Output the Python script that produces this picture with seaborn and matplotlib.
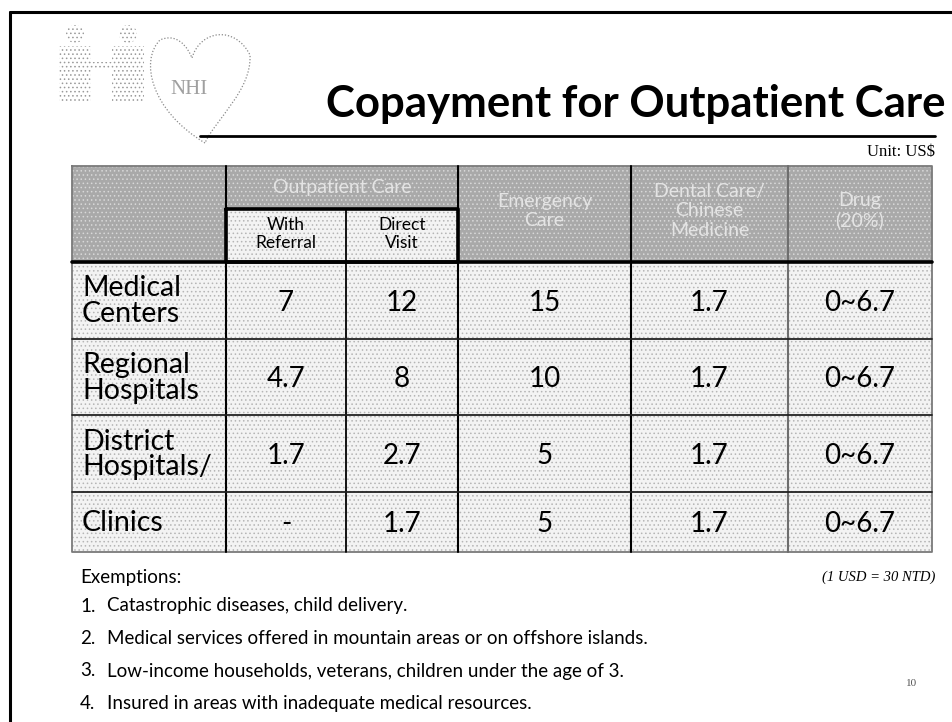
import numpy as np
import matplotlib.pyplot as plt
import seaborn as sns
from matplotlib.colors import ListedColormap
from matplotlib.patches import Rectangle, Circle, PathPatch
from matplotlib.path import Path

sns.set_theme(style="white")
plt.rcParams['font.family'] = ['Lato', 'DejaVu Sans']
plt.rcParams['hatch.linewidth'] = 0.6

# table content
row_labels = ["Medical\nCenters", "Regional\nHospitals", "District\nHospitals/", "Clinics"]
col_headers = ["Emergency\nCare", "Dental Care/\nChinese\nMedicine", "Drug\n(20%)"]
group_header = "Outpatient Care"
sub_headers = ["With\nReferral", "Direct\nVisit"]

with_referral = [7, 4.7, 1.7, np.nan]
direct_visit = [12, 8, 2.7, 1.7]
emergency = [15, 10, 5, 5]
dental = [1.7, 1.7, 1.7, 1.7]
drug_low = [0, 0, 0, 0]
drug_high = [6.7, 6.7, 6.7, 6.7]

exemptions = [
    "Catastrophic diseases, child delivery.",
    "Medical services offered in mountain areas or on offshore islands.",
    "Low-income households, veterans, children under the age of 3.",
    "Insured in areas with inadequate medical resources.",
]

# layout in pixels
W, H = 952, 722
col_x = [72, 226, 346, 458, 631, 788, 932]
row_y = [262, 339, 415, 492, 552]
head_top, head_mid = 166, 209
body_col = "#f3f3f3"
head_col = "#a9a9a9"


def fmt(v):
    if np.isnan(v):
        return "-"
    return f"{v:g}"


columns = [
    (with_referral, [fmt(v) for v in with_referral]),
    (direct_visit, [fmt(v) for v in direct_visit]),
    (emergency, [fmt(v) for v in emergency]),
    (dental, [fmt(v) for v in dental]),
    (drug_high, [f"{a:g}~{b:g}" for a, b in zip(drug_low, drug_high)]),
]

fig = plt.figure(figsize=(W / 100, H / 100), dpi=100)

page = fig.add_axes([0, 0, 1, 1])
page.set_xlim(0, W)
page.set_ylim(H, 0)
page.axis("off")

# slide frame
page.plot([10, W], [12, 12], color="black", lw=2.2)
page.plot([10, 10], [12, H], color="black", lw=2.2)

# logo (dotted people + heart)
for cx in (75, 128):
    page.add_patch(Circle((cx, 34), 9, facecolor="none", edgecolor="#9a9a9a", hatch="....", lw=0))
    page.add_patch(Rectangle((cx - 16, 46), 32, 55, facecolor="none", edgecolor="#9a9a9a", hatch="....", lw=0))
page.add_patch(Rectangle((90, 62), 22, 8, facecolor="none", edgecolor="#9a9a9a", hatch="....", lw=0))
heart = Path([(205, 143), (150, 110), (140, 60), (160, 40), (182, 30), (192, 58), (192, 58),
              (200, 30), (235, 25), (250, 55), (252, 90), (215, 120), (205, 143)],
             [Path.MOVETO, Path.CURVE4, Path.CURVE4, Path.CURVE4, Path.CURVE4, Path.CURVE4, Path.LINETO,
              Path.CURVE4, Path.CURVE4, Path.CURVE4, Path.CURVE4, Path.CURVE4, Path.CURVE4])
page.add_patch(PathPatch(heart, facecolor="none", edgecolor="#8a8a8a", lw=0.9, ls=(0, (1, 1.5))))
page.text(189, 89, "NHI", ha="center", va="center", fontsize=15, color="#a0a0a0",
          family=["Liberation Serif"])

# title
page.text(946, 104, "Copayment for Outpatient Care", ha="right", va="center",
          fontsize=31.5, fontweight="bold", color="black")
page.plot([200, 935], [136, 136], color="black", lw=2)
page.text(935, 152, "Unit: US$", ha="right", va="center", fontsize=12,
          family=["Liberation Serif"], color="black")

# header cells
page.add_patch(Rectangle((col_x[0], head_top), col_x[-1] - col_x[0], row_y[0] - head_top,
                         facecolor=head_col, edgecolor="#d8d8d8", hatch="....", lw=0, zorder=1))
page.add_patch(Rectangle((col_x[1], head_mid), col_x[3] - col_x[1], row_y[0] - head_mid,
                         facecolor=body_col, edgecolor="#b5b5b5", hatch="....", lw=0, zorder=1))
page.text((col_x[1] + col_x[3]) / 2, 187, group_header, ha="center", va="center",
          fontsize=14, color="#e4e4e4", zorder=3)
for j, txt in enumerate(sub_headers):
    page.text((col_x[1 + j] + col_x[2 + j]) / 2, 234, txt, ha="center", va="center",
              fontsize=12.5, color="black", linespacing=1.1, zorder=3)
for j, txt in enumerate(col_headers):
    page.text((col_x[3 + j] + col_x[4 + j]) / 2, 211, txt, ha="center", va="center",
              fontsize=14, color="#e4e4e4", linespacing=1.15, zorder=3)

# row label column
page.add_patch(Rectangle((col_x[0], row_y[0]), col_x[1] - col_x[0], row_y[-1] - row_y[0],
                         facecolor=body_col, edgecolor="#b5b5b5", hatch="....", lw=0, zorder=1))
for i, lab in enumerate(row_labels):
    page.text(col_x[0] + 10, (row_y[i] + row_y[i + 1]) / 2 + 1, lab, ha="left", va="center",
              fontsize=20.5, color="black", linespacing=1.0, zorder=3)

# value columns as seaborn heatmaps (first three rows share a height, last row is shorter)
blocks = [(0, 3), (3, 4)]
for j, (vals, labels) in enumerate(columns):
    x0, x1 = col_x[1 + j], col_x[2 + j]
    data = np.nan_to_num(np.array(vals, dtype=float)).reshape(-1, 1)
    annot = np.array(labels).reshape(-1, 1)
    for r0, r1 in blocks:
        y0, y1 = row_y[r0], row_y[r1]
        ax = fig.add_axes([x0 / W, 1 - y1 / H, (x1 - x0) / W, (y1 - y0) / H])
        sns.heatmap(data[r0:r1], annot=annot[r0:r1], fmt="", cbar=False,
                    cmap=ListedColormap([body_col]), xticklabels=False, yticklabels=False,
                    annot_kws={"fontsize": 20, "color": "black"}, ax=ax)
        ax.add_patch(Rectangle((0, 0), 1, r1 - r0, facecolor="none", edgecolor="#b5b5b5",
                               hatch="....", lw=0, zorder=2))
        for t in ax.texts:
            t.set_y(t.get_position()[1] + 0.03)
        ax.axis("off")

# grid lines on top
grid = fig.add_axes([0, 0, 1, 1], facecolor="none")
grid.set_xlim(0, W)
grid.set_ylim(H, 0)
grid.axis("off")
grid.plot([col_x[0], col_x[-1], col_x[-1], col_x[0], col_x[0]],
          [head_top, head_top, row_y[-1], row_y[-1], head_top], color="#7a7a7a", lw=1.3)
for x, c in [(col_x[1], "black"), (col_x[3], "black"), (col_x[4], "black"), (col_x[5], "#6e6e6e")]:
    grid.plot([x, x], [head_top, row_y[-1]], color=c, lw=1.5)
grid.plot([col_x[2], col_x[2]], [head_mid, row_y[-1]], color="black", lw=1.3)
grid.plot([col_x[1], col_x[3], col_x[3], col_x[1], col_x[1]],
          [head_mid, head_mid, row_y[0], row_y[0], head_mid], color="black", lw=2.6)
grid.plot([col_x[0], col_x[-1]], [row_y[0], row_y[0]], color="black", lw=2.6)
for y in row_y[1:-1]:
    grid.plot([col_x[0], col_x[-1]], [y, y], color="#222222", lw=1.3)

# notes
page.text(80, 577, "Exemptions:", ha="left", va="center", fontsize=13.5, color="black")
page.text(935, 577, "(1 USD = 30 NTD)", ha="right", va="center", fontsize=10.5,
          style="italic", family=["Liberation Serif"], color="black")
for k, line in enumerate(exemptions):
    y = 606 + k * 32.5
    page.text(80, y, f"{k + 1}.", ha="left", va="center", fontsize=13.5, color="black")
    page.text(107, y, line, ha="left", va="center", fontsize=13.5, color="black")
page.text(912, 684, "10", ha="center", va="center", fontsize=8, color="#555555",
          family=["Liberation Serif"])

fig.savefig("out.png", dpi=100)
